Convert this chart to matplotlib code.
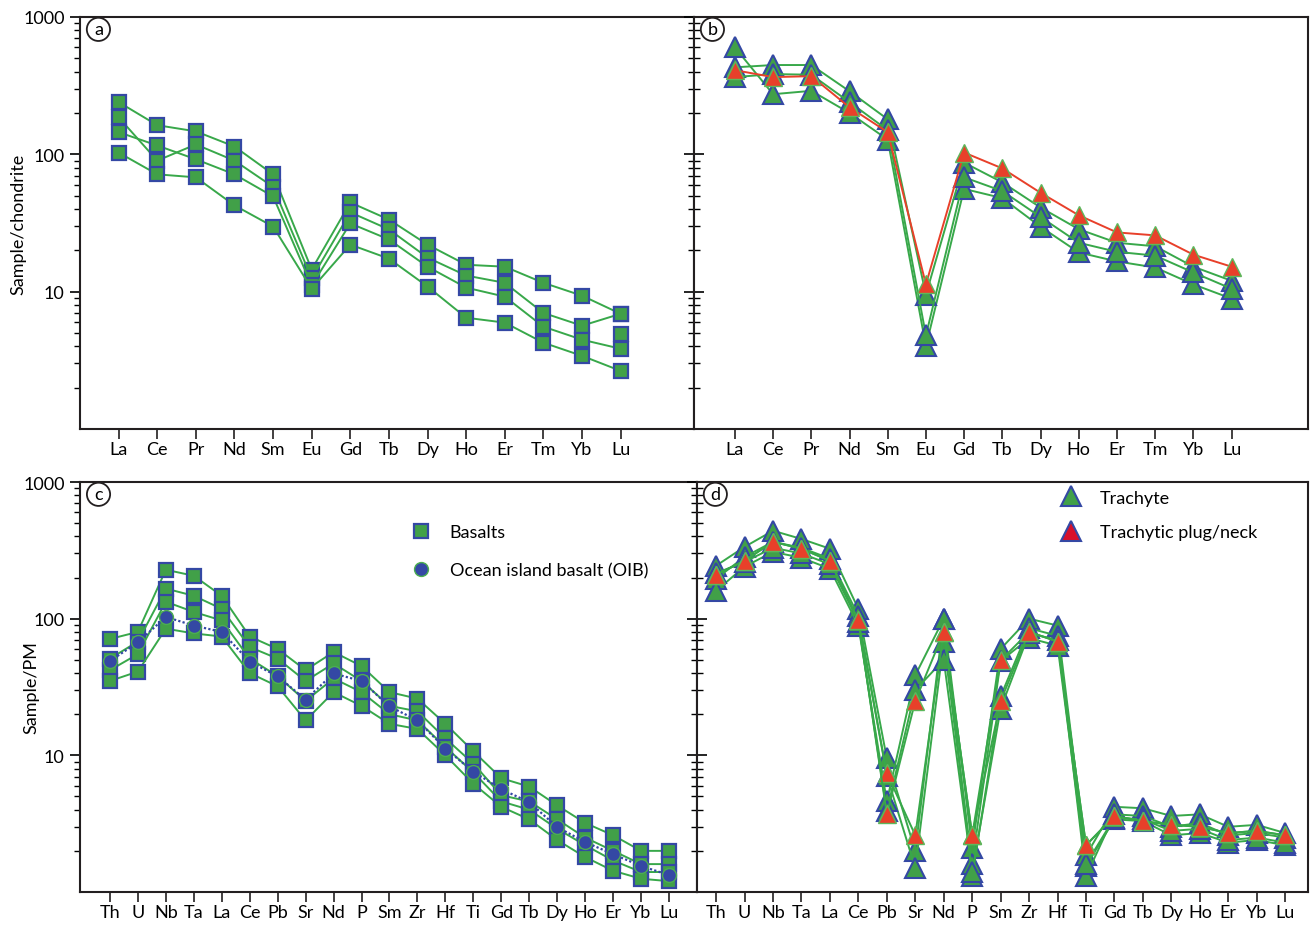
import matplotlib.pyplot as plt
from matplotlib.lines import Line2D
from matplotlib.ticker import FixedLocator, LogLocator, NullFormatter

plt.rcParams['font.family'] = ['Lato', 'DejaVu Sans']

# element orders
ree = ['La', 'Ce', 'Pr', 'Nd', 'Sm', 'Eu', 'Gd', 'Tb', 'Dy', 'Ho', 'Er', 'Tm', 'Yb', 'Lu']
spider = ['Th', 'U', 'Nb', 'Ta', 'La', 'Ce', 'Pb', 'Sr', 'Nd', 'P', 'Sm',
          'Zr', 'Hf', 'Ti', 'Gd', 'Tb', 'Dy', 'Ho', 'Er', 'Yb', 'Lu']

# (a) basalts, chondrite normalised
basalt_ree_1 = [240, 163, 147, 114, 71.5, 14.5, 44.6, 33.5, 22.0, 15.7, 15.2, 11.6, 9.35, 6.9]
basalt_ree_2 = [186, 90, 118, 90, 58, 12.5, 37.8, 28.4, 17.7, 13.1, 11.6, 7.0, 5.65, 6.9]
basalt_ree_3 = [145, 116, 92, 71.5, 49.4, 11.1, 31.4, 24.0, 15.2, 10.7, 9.2, 5.56, 4.47, 3.84]
basalt_ree_4 = [103, 71.5, 68, 42.5, 29.8, 10.5, 22.0, 17.4, 10.9, 6.46, 5.95, 4.25, 3.41, 2.65]
basalt_ree_loose = {'Lu': 4.93}

# (b) trachytes, chondrite normalised
trachyte_ree_1 = [600, 274, 290, 200, 128, 4.0, 56, 48, 29.7, 19.3, 16.6, 15.0, 11.3, 8.9]
trachyte_ree_2 = [430, 447, 447, 288, 180, 9.5, 87, 62.5, 41, 28.5, 22.7, 21.4, 15.2, 12.0]
trachyte_ree_3 = [365, 384, 380, 240, 150, 4.8, 68, 54, 35, 22.7, 19.5, 18.3, 13.8, 10.5]
plug_ree = [410, 365, 371, 220, 145, 11.3, 103, 79, 52.5, 36, 27, 25.7, 18.6, 15.2]

# (c) basalts and OIB, primitive mantle normalised
basalt_pm_1 = [71, 80, 228, 206, 147, 74, 60, 42, 57, 45, 29, 26, 17, 10.7, 6.8, 5.9, 4.3, 3.2, 2.6, 2.0, 2.0]
basalt_pm_2 = [51, 68, 166, 147, 118, 62, 51, 35, 47, 35, 23, 21, 13.3, 8.7, 5.1, 4.6, 3.4, 2.5, 2.0, 1.6, 1.6]
basalt_pm_3 = [42, 55, 133, 112, 97, 51, 38, 25, 36.5, 29, 20, 18, 11.5, 7.5, 4.6, 4.0, 2.9, 2.2, 1.7, 1.4, 1.4]
basalt_pm_4 = [35, 41, 84.5, 78, 74, 40, 32, 18, 29, 23, 17, 15.6, 10, 6.2, 4.2, 3.4, 2.4, 1.8, 1.43, 1.25, 1.2]
oib_pm = [49, 67, 103, 89, 80, 48.5, 37.8, 25.6, 39.7, 35, 22.8, 18, 11.2, 7.6, 5.65, 4.54, 2.98, 2.32, 1.89, 1.55, 1.33]

# (d) trachytes, primitive mantle normalised
trachyte_pm_1 = [244, 335, 440, 383, 325, 118, 9.5, 2.0, 100, 2.1, 60, 100, 89, 1.85, 4.2, 4.1, 3.6, 3.7, 3.0, 3.1, 2.7]
trachyte_pm_2 = [196, 283, 365, 330, 275, 105, 7.1, 1.5, 68, 1.6, 49, 72, 63.5, 1.55, 3.4, 3.3, 2.6, 2.7, 2.3, 2.4, 2.2]
trachyte_pm_3 = [160, 240, 308, 279, 232, 89, 4.6, 38.5, 100, 1.3, 27, 85, 75, 1.3, 3.7, 3.6, 3.0, 3.2, 2.6, 2.7, 2.5]
trachyte_pm_4 = [215, 260, 330, 300, 250, 95, 3.9, 30, 50, 1.4, 22, 78, 70, 1.6, 3.5, 3.4, 2.8, 2.9, 2.4, 2.5, 2.3]
plug_pm_1 = [210, 265, 365, 325, 265, 97, 7.4, 2.6, 80, 2.6, 49.5, 80, 68, 2.2, 3.6, 3.3, 3.1, 3.0, 2.7, 2.8, 2.6]
plug_pm_2 = [210, 265, 365, 325, 265, 97, 3.7, 25, 80, 2.6, 25, 80, 68, 2.2, 3.6, 3.3, 3.1, 3.0, 2.7, 2.8, 2.6]

GREEN = '#41a048'
LINE = '#38a84a'
BLUE = '#3448a4'
RED = '#e8402a'
CRIMSON = '#d7102b'
INK = '#231f20'

square = dict(marker='s', ms=10.5, mfc=GREEN, mec=BLUE, mew=1.6)
tri = dict(marker='^', ms=14, mfc=GREEN, mec=BLUE, mew=1.5)
red_tri = dict(marker='^', ms=13, mfc=RED, mec='#5cb85c', mew=1.0)

fig = plt.figure(figsize=(13.1, 9.29), dpi=100)
W, H = 1310, 929


def make_axes(x0, x1, y0, y1):
    return fig.add_axes([x0 / W, 1 - y1 / H, (x1 - x0) / W, (y1 - y0) / H])


ax_a = make_axes(80, 694, 18, 430)
ax_b = make_axes(694, 1308, 18, 430)
ax_c = make_axes(80, 697, 483, 893)
ax_d = make_axes(697, 1308, 483, 893)

# (a)
for vals in [basalt_ree_1, basalt_ree_2, basalt_ree_3, basalt_ree_4]:
    ax_a.plot(range(len(ree)), vals, color=LINE, lw=1.4, **square)
for el, v in basalt_ree_loose.items():
    ax_a.plot([ree.index(el)], [v], ls='none', **square)

# (b)
for vals in [trachyte_ree_1, trachyte_ree_2, trachyte_ree_3]:
    ax_b.plot(range(len(ree)), vals, color=LINE, lw=1.4, **tri)
ax_b.plot(range(len(ree)), plug_ree, color=RED, lw=1.4, **red_tri)

# (c)
for vals in [basalt_pm_1, basalt_pm_2, basalt_pm_3, basalt_pm_4]:
    ax_c.plot(range(len(spider)), vals, color=LINE, lw=1.4, **square)
ax_c.plot(range(len(spider)), oib_pm, color=BLUE, lw=1.6, ls=(0, (1, 1)),
          marker='o', ms=10, mfc=BLUE, mec='#4cae50', mew=1.0)

# (d)
for vals in [trachyte_pm_1, trachyte_pm_2, trachyte_pm_3, trachyte_pm_4]:
    ax_d.plot(range(len(spider)), vals, color=LINE, lw=1.4, **tri)
for vals in [plug_pm_1, plug_pm_2]:
    ax_d.plot(range(len(spider)), vals, color=LINE, lw=1.4, **red_tri)

# axes styling
for ax, labels, xlim in [(ax_a, ree, (-1.0, 14.9)), (ax_b, ree, (-1.07, 15.0)),
                         (ax_c, spider, (-1.07, 21.0)), (ax_d, spider, (-0.67, 20.8))]:
    ax.set_yscale('log')
    ax.set_ylim(1, 1000)
    ax.set_xlim(*xlim)
    ax.set_xticks(range(len(labels)))
    ax.set_xticklabels(labels, fontsize=13)
    ax.yaxis.set_major_locator(FixedLocator([10, 100, 1000]))
    ax.yaxis.set_minor_locator(LogLocator(base=10, subs=range(2, 10)))
    ax.yaxis.set_minor_formatter(NullFormatter())
    ax.set_yticklabels(['10', '100', '1000'], fontsize=13)
    ax.tick_params(axis='x', direction='out', length=7, width=1.2, color=INK, pad=2)
    for s in ax.spines.values():
        s.set_linewidth(1.5)
        s.set_color(INK)

for ax in (ax_a, ax_c):
    ax.tick_params(axis='y', which='major', direction='out', length=7, width=1.2, pad=4)
    ax.tick_params(axis='y', which='minor', direction='out', length=4, width=1.0)
for ax in (ax_b, ax_d):
    ax.tick_params(axis='y', which='major', direction='inout', length=14, width=1.2, labelleft=False)
    ax.tick_params(axis='y', which='minor', direction='inout', length=8, width=1.0)

ax_a.set_ylabel('Sample/chondrite', fontsize=13)
ax_a.yaxis.set_label_coords(-0.088, 0.5)
ax_c.set_ylabel('Sample/PM', fontsize=13)
ax_c.yaxis.set_label_coords(-0.066, 0.5)

# panel letters
for ax, letter in [(ax_a, 'a'), (ax_b, 'b'), (ax_c, 'c'), (ax_d, 'd')]:
    ax.text(0.03, 0.97, letter, transform=ax.transAxes, ha='center', va='center', fontsize=13,
            bbox=dict(boxstyle='circle,pad=0.2', fc='white', ec=INK, lw=1.3))

# legends
leg_c = [Line2D([], [], ls='none', **square),
         Line2D([], [], ls='none', marker='o', ms=10, mfc=BLUE, mec='#4cae50', mew=1.0)]
ax_c.legend(leg_c, ['Basalts', 'Ocean island basalt (OIB)'], loc='upper left',
            bbox_to_anchor=(0.52, 0.92), frameon=False, fontsize=13, handlelength=1.2,
            handletextpad=1.0, labelspacing=1.25, borderpad=0)
leg_d = [Line2D([], [], ls='none', **tri),
         Line2D([], [], ls='none', marker='^', ms=14, mfc=CRIMSON, mec=BLUE, mew=1.5)]
ax_d.legend(leg_d, ['Trachyte', 'Trachytic plug/neck'], loc='upper left',
            bbox_to_anchor=(0.58, 1.003), frameon=False, fontsize=13, handlelength=1.2,
            handletextpad=1.0, labelspacing=1.0, borderpad=0)

fig.savefig('out.png', dpi=100)
